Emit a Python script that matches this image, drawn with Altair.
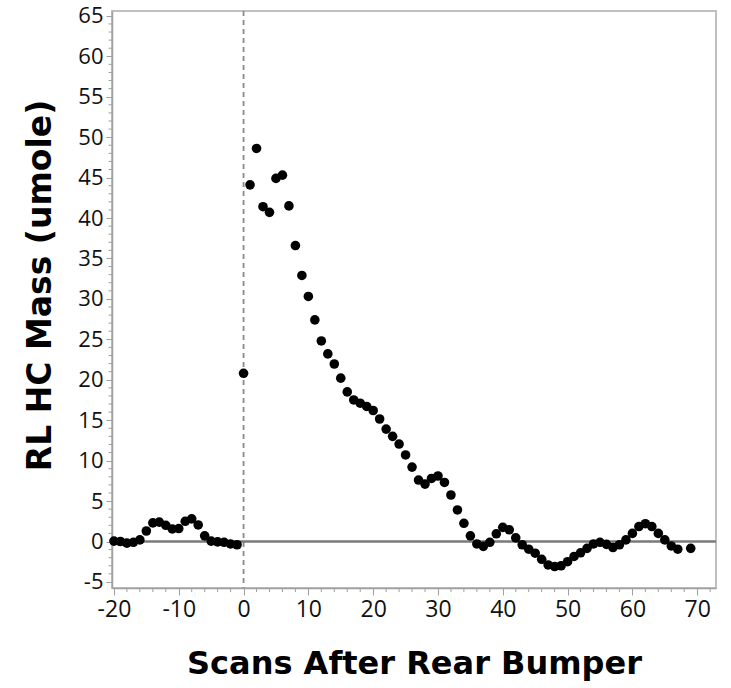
import altair as alt
import pandas as pd

# Scan index relative to rear bumper
scans = list(range(-20, 68)) + [69]
# RL HC mass (umole)
mass = [
    0.05, 0.0, -0.2, -0.1, 0.2, 1.3, 2.3, 2.4, 2.0, 1.55,
    1.6, 2.5, 2.8, 2.05, 0.7, 0.05, -0.05, -0.1, -0.3, -0.4,
    20.8, 44.1, 48.6, 41.4, 40.7, 44.9, 45.3, 41.5, 36.6, 32.9,
    30.3, 27.4, 24.8, 23.2, 21.95, 20.2, 18.5, 17.5, 17.1, 16.7,
    16.2, 15.15, 13.9, 13.0, 12.05, 10.7, 9.2, 7.6, 7.1, 7.8,
    8.1, 7.3, 5.75, 3.9, 2.25, 0.7, -0.3, -0.6, -0.1, 0.95,
    1.75, 1.45, 0.45, -0.4, -0.95, -1.45, -2.2, -2.9, -3.1, -3.0,
    -2.5, -1.85, -1.4, -0.85, -0.3, -0.1, -0.35, -0.75, -0.4, 0.2,
    1.0, 1.85, 2.2, 1.85, 1.0, 0.2, -0.55, -0.95, -0.85,
]

x_major = list(range(-20, 71, 10))
y_major = list(range(-5, 66, 5))
x_minor = [v for v in range(-20, 73, 2) if v % 10 != 0]
y_minor = [v for v in range(-5, 66, 1) if v % 5 != 0]

df = pd.DataFrame({"scan": scans, "mass": mass})

TICK = "#a0a0a0"
x_scale = alt.Scale(domain=[-20.3, 72.9], nice=False, zero=False)
y_scale = alt.Scale(domain=[-5.75, 65.6], nice=False, zero=False)

x_axis = alt.Axis(
    values=x_major,
    labelExpr="'' + datum.value",
    labelOverlap=False,
    grid=False,
    tickSize=7,
    tickColor=TICK,
    domainColor=TICK,
    domainWidth=1.5,
    labelFont="Open Sans",
    labelFontSize=23,
    labelColor="#111111",
    labelPadding=3,
    labelFlush=False,
    title="Scans After Rear Bumper",
    titleFont="DejaVu Sans",
    titleFontSize=32,
    titleFontWeight="bold",
    titleColor="#000000",
    titlePadding=27,
)
y_axis = alt.Axis(
    values=y_major,
    labelExpr="'' + datum.value",
    labelOverlap=False,
    grid=False,
    tickSize=6,
    tickColor=TICK,
    domainColor=TICK,
    domainWidth=1.5,
    labelFont="Open Sans",
    labelFontSize=22,
    labelColor="#111111",
    labelPadding=3,
    labelFlush=False,
    title="RL HC Mass (umole)",
    titleFont="DejaVu Sans",
    titleFontSize=33,
    titleFontWeight="bold",
    titleColor="#000000",
    titlePadding=20,
    titleY=274,
)

points = alt.Chart(df).mark_circle(size=92, color="#000000", opacity=1).encode(
    x=alt.X("scan:Q", scale=x_scale, axis=x_axis),
    y=alt.Y("mass:Q", scale=y_scale, axis=y_axis),
)

zero_line = alt.Chart(pd.DataFrame({"y": [0]})).mark_rule(
    color="#7a7a7a", strokeWidth=2.5
).encode(y=alt.Y("y:Q", scale=y_scale))

bumper_line = alt.Chart(pd.DataFrame({"x": [0]})).mark_rule(
    color="#8a8a8a", strokeWidth=1.8, strokeDash=[5, 4]
).encode(x=alt.X("x:Q", scale=x_scale))

# minor ticks, placed by the shared scales just outside the axis lines
y_minor_ticks = alt.Chart(pd.DataFrame({"y": y_minor})).mark_rule(
    color=TICK, strokeWidth=1
).encode(y=alt.Y("y:Q", scale=y_scale), x=alt.value(-3.5), x2=alt.value(0))

x_minor_ticks = alt.Chart(pd.DataFrame({"x": x_minor})).mark_rule(
    color=TICK, strokeWidth=1
).encode(x=alt.X("x:Q", scale=x_scale), y=alt.value(577), y2=alt.value(581))

chart = (
    alt.layer(bumper_line, zero_line, y_minor_ticks, x_minor_ticks, points)
    .properties(
        width=604,
        height=577,
        autosize=alt.AutoSizeParams(type="none"),
        padding={"left": 112, "top": 11, "right": 15, "bottom": 100},
        background="#ffffff",
    )
    .configure_view(stroke="#c0c0c0", strokeWidth=2)
)

chart.save("out.html", embed_options={"renderer": "svg", "actions": False})
